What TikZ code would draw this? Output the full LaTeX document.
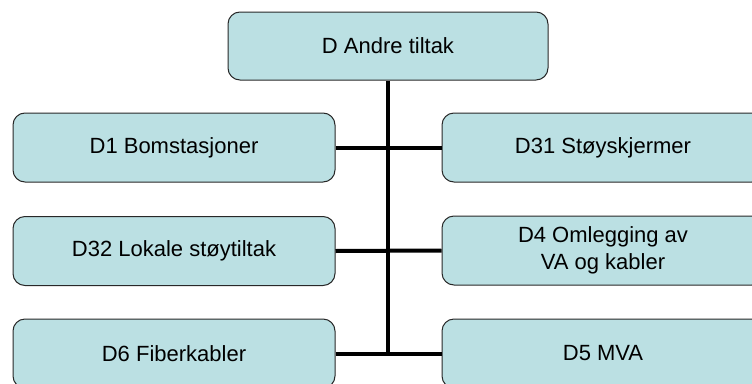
\documentclass[tikz,border=0pt]{standalone}
\usepackage{fontspec}
\setmainfont{Liberation Sans}
\usepackage{xcolor}
\definecolor{boxfill}{RGB}{187,224,227}
\definecolor{boxline}{RGB}{40,40,40}

\begin{document}
\begin{tikzpicture}[x=1pt, y=-1pt,
    tiltak/.style={draw=boxline, line width=1pt, fill=boxfill, rounded corners=12pt,
        minimum width=322pt, minimum height=69pt, inner sep=0pt, align=center,
        font=\fontsize{22}{26.5}\selectfont},
    link/.style={line width=4pt}]

    % Fix the picture size, the boxes on the right and at the bottom are cut off
    \useasboundingbox (0,0) rectangle (752,383);
    \clip (0,0) rectangle (752,383);

    % Draw the top box
    \node[tiltak, minimum width=320pt, minimum height=68pt] (D) at (388,46) {D Andre tiltak};

    % Draw the boxes on the left
    \node[tiltak] (D1) at (174,147.5) {D1 Bomstasjoner};
    \node[tiltak] (D32) at (174,251) {D32 Lokale støytiltak};
    \node[tiltak] (D6) at (174,353.5) {D6 Fiberkabler};

    % Draw the boxes on the right
    \node[tiltak] (D31) at (603,147.5) {D31 Støyskjermer};
    \node[tiltak] (D4) at (603,250.5) {D4 Omlegging av\\VA og kabler};
    \node[tiltak] (D5) at (603,353.5) {D5 MVA};

    % Draw the trunk and the branches
    \coordinate (bunn) at (D.south |- D6.east);
    \draw[link] (D.south) -- (bunn);
    \draw[link] (D1.east) -- (D31.west);
    \draw[link] (D32.east) -- (D4.west);
    \draw[link] (D6.east) -- (D5.west);

\end{tikzpicture}
\end{document}
